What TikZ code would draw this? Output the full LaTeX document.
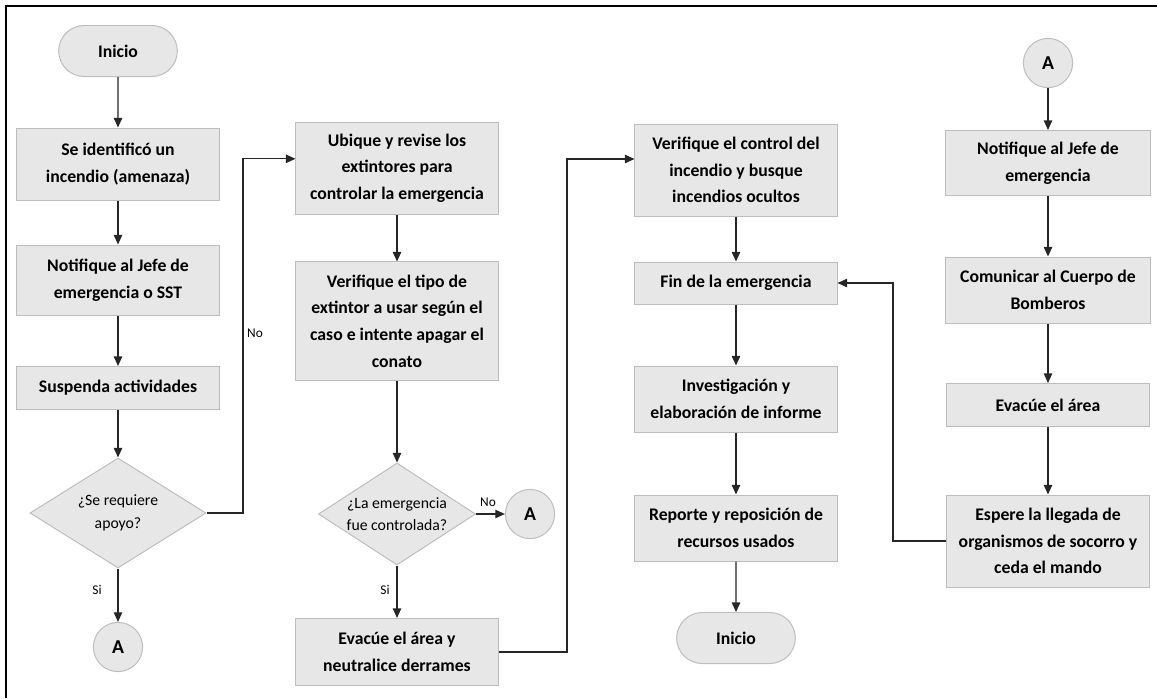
\documentclass[tikz,border=0pt]{standalone}
\usepackage{fontspec}
\setmainfont{Carlito}
\usepackage{tikz}
\usetikzlibrary{shapes,arrows.meta,positioning}

\definecolor{boxfill}{HTML}{E7E7E7}
\definecolor{boxline}{HTML}{BDBDBD}

\begin{document}
\begin{tikzpicture}[x=0.025cm, y=-0.025cm]
			\tikzstyle{Step}	= [rectangle, draw=boxline, fill=boxfill, line width=0.7pt, align=center, inner sep=2pt, minimum width=5.05cm, font=\fontsize{12.6}{18.9}\selectfont\bfseries]
			\tikzstyle{Term}	= [rounded rectangle, draw=boxline, fill=boxfill, line width=0.7pt, minimum width=3.2cm, minimum height=1.275cm, font=\fontsize{12.6}{14}\selectfont\bfseries]
			\tikzstyle{Ask}		= [diamond, aspect=1.6, draw=boxline, fill=boxfill, line width=0.7pt, align=center, inner sep=0pt, font=\fontsize{11.2}{16}\selectfont]
			\tikzstyle{Link}	= [circle, draw=boxline, fill=boxfill, line width=0.7pt, minimum size=1.23cm, inner sep=0pt, font=\fontsize{14}{14}\selectfont\bfseries]
			\tikzstyle{Tag}		= [inner sep=1pt, font=\fontsize{9.5}{10}\selectfont]
			\tikzstyle{Flow}	= [black!85, line width=0.9pt, -{Triangle[length=2.4mm, width=2.1mm]}]

			% frame
			\useasboundingbox (0, 0) rectangle (1157, 698);
			\draw [line width=1.4pt] (6, 698) -- (6, 6) -- (1157, 6);

			% first column
			\node (ini1) at (118, 51) [Term] {Inicio};
			\node (s1) at (118, 164) [Step, minimum height=1.8cm] {Se identificó un\\incendio (amenaza)};
			\node (s2) at (118, 280) [Step, minimum height=1.75cm] {Notifique al Jefe de\\emergencia o SST};
			\node (s3) at (118, 388) [Step, minimum height=1.075cm] {Suspenda actividades};
			\node (d1) at (118, 513) [Ask, minimum width=4.4cm, minimum height=2.75cm] {¿Se requiere\\apoyo?};
			\node (a1) at (118, 647) [Link] {A};

			% second column
			\node (u1) at (397, 168) [Step, minimum height=2.3cm] {Ubique y revise los\\extintores para\\controlar la emergencia};
			\node (v1) at (397, 321) [Step, minimum height=2.95cm] {Verifique el tipo de\\extintor a usar según el\\caso e intente apagar el\\conato};
			\node (d2) at (397, 514) [Ask, aspect=1.54, minimum width=3.925cm, minimum height=2.55cm] {¿La emergencia\\fue controlada?};
			\node (a2) at (530, 514) [Link] {A};
			\node (e1) at (397, 652) [Step, minimum height=1.675cm] {Evacúe el área y\\neutralice derrames};

			% third column
			\node (c1) at (736, 170) [Step, minimum height=2.3cm] {Verifique el control del\\incendio y busque\\incendios ocultos};
			\node (f1) at (736, 283) [Step, minimum height=1.05cm] {Fin de la emergencia};
			\node (i1) at (736, 399) [Step, minimum height=1.65cm] {Investigación y\\elaboración de informe};
			\node (r1) at (736, 528) [Step, minimum height=1.65cm] {Reporte y reposición de\\recursos usados};
			\node (ini2) at (736, 638) [Term] {Inicio};

			% fourth column
			\node (a3) at (1048, 63) [Link] {A};
			\node (n1) at (1048, 163) [Step, minimum width=5.1cm, minimum height=1.625cm] {Notifique al Jefe de\\emergencia};
			\node (b1) at (1048, 290) [Step, minimum width=5.1cm, minimum height=1.65cm] {Comunicar al Cuerpo de\\Bomberos};
			\node (e2) at (1048, 405) [Step, minimum height=1.075cm] {Evacúe el área};
			\node (w1) at (1048, 541) [Step, minimum height=2.3cm] {Espere la llegada de\\organismos de socorro y\\ceda el mando};

			% bends of the long connectors
			\coordinate (k1) at (243, 0);
			\coordinate (k2) at (567, 0);
			\coordinate (k3) at (893, 0);

			\draw [Flow] (ini1) to (s1);
			\draw [Flow] (s1) to (s2);
			\draw [Flow] (s2) to (s3);
			\draw [Flow] (s3) to (d1);
			\draw [Flow] (d1) to (a1);
			\draw [Flow] (d1.east) -- (k1 |- d1.east) |- ([yshift=0.23cm]u1.west);

			\draw [Flow] (u1) to (v1);
			\draw [Flow] (v1) to (d2);
			\draw [Flow] (d2) to (a2);
			\draw [Flow] (d2) to (e1);
			\draw [Flow] (e1.east) -- (k2 |- e1.east) |- ([yshift=0.275cm]c1.west);

			\draw [Flow] (c1) to (f1);
			\draw [Flow] (f1) to (i1);
			\draw [Flow] (i1) to (r1);
			\draw [Flow] (r1) to (ini2);

			\draw [Flow] (a3) to (n1);
			\draw [Flow] (n1) to (b1);
			\draw [Flow] (b1) to (e2);
			\draw [Flow] (e2) to (w1);
			\draw [Flow] (w1.west) -- (k3 |- w1.west) |- (f1.east);

			% answers
			\node (no1) at (255, 333) [Tag] {No};
			\node (si1) at (97, 590) [Tag] {Si};
			\node (no2) at (488, 502) [Tag] {No};
			\node (si2) at (385, 590) [Tag] {Si};
\end{tikzpicture}
\end{document}
